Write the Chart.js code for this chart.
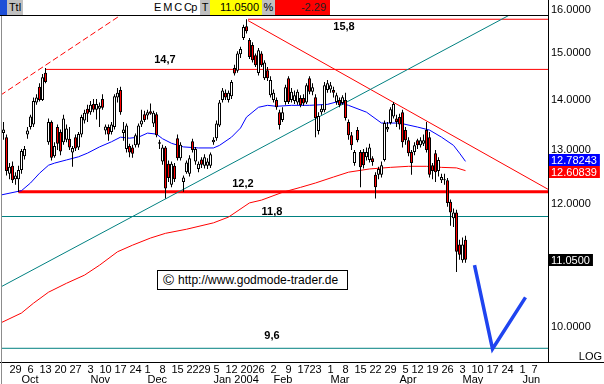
<!DOCTYPE html>
<html>
<head>
<meta charset="utf-8">
<title>Chart</title>
<script src="https://cdn.jsdelivr.net/npm/chart.js@4.4.1/dist/chart.umd.min.js"></script>
<style>
  html, body { margin: 0; padding: 0; background: #fff; }
  #wrap { position: relative; width: 604px; height: 384px; overflow: hidden; font-family: "Liberation Sans", Arial, sans-serif; }
  #chart { position: absolute; left: 0; top: 0; }
  #hdr { position: absolute; left: 0; top: 0; width: 548px; height: 15px; background: #fff; border-bottom: 1px solid #000; font-size: 11px; line-height: 15px; color: #000; }
  #hdr span { position: absolute; top: 0; height: 15px; box-sizing: border-box; white-space: nowrap; }
  .grey { background: #c0c0c0; text-align: center; }
  #copy { position: absolute; left: 157px; top: 270px; width: 191px; height: 20px; box-sizing: border-box; border: 1px solid #000; background: #fff; font-size: 12px; line-height: 18px; padding-left: 5px; white-space: nowrap; }
  #copy b { font-weight: normal; font-size: 15px; vertical-align: -1px; margin-right: 4px; }
</style>
</head>
<body>
<div id="wrap">
  <canvas id="chart" width="604" height="384"></canvas>
  <div id="hdr">
    <span style="left:0;width:7px;background:#1d4fd8"></span>
    <span class="grey" style="left:7px;width:16px">Ttl</span>
    <span style="left:154px;letter-spacing:-0.6px">E M C Cp</span>
    <span class="grey" style="left:200px;width:10px">T</span>
    <span id="hLast" style="left:210px;width:52px;background:#ffff00;text-align:right;padding-right:3px"></span>
    <span class="grey" style="left:262px;width:13px">%</span>
    <span id="hChg" style="left:275px;width:55px;background:#ff0000;text-align:right;padding-right:4px;color:#222"></span>
  </div>
  <div id="copy"><b>©</b>http://www.godmode-trader.de</div>
</div>
<script>
const FONT = '"Liberation Sans", Arial, sans-serif';

// trading calendar (US market)
const firstDay = '2003-09-23';
const lastDay = '2004-06-11';
const holidays = ['2003-11-27', '2003-12-25', '2004-01-01', '2004-01-19', '2004-02-16', '2004-04-09', '2004-05-31'];
const monthNames = ['Jan', 'Feb', 'Mar', 'Apr', 'May', 'Jun', 'Jul', 'Aug', 'Sep', 'Oct', 'Nov', 'Dec'];

// daily candles from 2003-09-23: [open, high, low, close]
const ohlc = [
  [13.33,13.55,13.20,13.40],[13.25,13.30,12.52,12.60],[12.55,12.75,12.45,12.68],[12.70,12.78,12.38,12.43],
  [12.45,12.58,12.35,12.52],[12.45,12.70,12.21,12.62],[12.62,13.02,12.55,12.98],[12.88,13.08,12.82,13.02],[13.30,13.45,13.22,13.38],
  [13.45,13.70,13.40,13.66],[13.50,14.05,13.45,13.98],[13.95,14.12,13.90,14.05],[14.28,14.35,13.97,14.00],[14.00,14.55,13.98,14.48],
  [14.58,14.68,14.35,14.38],[13.15,13.62,13.10,13.55],[13.55,13.58,12.80,12.85],[12.88,13.15,12.85,13.08],[13.45,13.50,13.00,13.12],
  [13.35,13.40,12.90,12.97],[13.15,13.70,13.10,13.62],[13.20,13.50,13.15,13.42],[13.22,13.45,13.00,13.05],[12.95,13.08,12.68,13.04],
  [13.25,13.30,12.98,13.03],[13.05,13.35,13.00,13.31],[13.30,13.70,13.25,13.65],[13.58,13.80,13.52,13.74],[13.82,13.90,13.55,13.72],
  [13.75,13.98,13.70,13.90],[13.92,14.02,13.75,13.80],[13.80,14.02,13.60,13.92],[13.82,13.95,13.45,13.88],[14.02,14.12,13.80,13.84],
  [13.38,13.50,13.30,13.46],[13.45,13.50,13.18,13.30],[13.35,13.55,13.30,13.50],[13.45,14.12,13.40,14.08],[14.05,14.25,13.95,14.15],
  [14.21,14.28,13.70,13.75],[13.33,13.55,13.18,13.40],[13.02,13.52,12.95,13.48],[13.08,13.12,12.86,12.95],[13.05,13.10,12.85,12.93],
  [13.09,13.32,13.05,13.29],[13.10,13.52,13.05,13.48],[13.50,13.80,13.45,13.58],[13.71,13.78,13.55,13.59],[13.68,13.80,13.60,13.75],
  [13.77,13.93,13.70,13.72],[13.52,13.78,13.45,13.74],[13.71,13.75,13.25,13.29],[13.12,13.20,13.02,13.15],[12.78,13.10,12.72,13.05],
  [13.05,13.08,12.10,12.28],[12.74,12.80,12.40,12.47],[12.35,12.78,12.30,12.74],[12.70,12.75,12.40,12.45],[13.23,13.30,12.80,12.84],
  [12.84,13.15,12.80,13.10],[12.40,12.52,12.22,12.48],[12.58,12.80,12.55,12.76],[12.55,12.90,12.50,12.84],[13.17,13.22,12.95,13.00],
  [12.78,13.06,12.72,13.02],[12.64,12.78,12.58,12.74],[12.82,12.86,12.66,12.72],[12.70,12.92,12.65,12.86],[12.70,12.84,12.64,12.78],
  [12.70,12.95,12.66,12.92],[13.15,13.25,13.10,13.20],[13.23,13.58,13.18,13.52],[13.48,14.00,13.45,13.95],[14.00,14.25,13.95,14.20],
  [14.15,14.22,14.00,14.05],[14.00,14.20,13.95,14.15],[14.08,14.42,14.02,14.38],[14.68,14.75,14.52,14.56],[14.62,15.05,14.58,15.00],
  [14.98,15.15,14.90,15.10],[15.35,15.65,15.30,15.60],[15.62,15.78,15.45,15.50],[15.30,15.35,14.88,14.92],[15.19,15.25,14.80,14.85],
  [14.96,15.00,14.70,14.74],[14.57,15.12,14.52,15.07],[15.00,15.05,14.70,14.74],[14.46,14.85,14.42,14.80],[14.63,14.70,14.40,14.46],
  [14.10,14.50,14.05,14.42],[14.00,14.22,13.95,14.15],[14.00,14.05,13.80,13.85],[13.75,13.80,13.40,13.49],[13.59,13.85,13.55,13.75],
  [13.96,14.32,13.90,14.27],[14.46,14.50,13.92,13.96],[14.00,14.25,13.95,14.17],[13.98,14.20,13.92,14.10],[13.95,14.22,13.90,14.17],
  [14.04,14.10,13.85,13.89],[14.04,14.12,13.88,13.93],[13.95,14.35,13.92,14.31],[14.46,14.50,14.12,14.17],[14.17,14.35,14.10,14.27],
  [14.06,14.12,13.25,13.63],[13.37,13.75,13.30,13.67],[13.75,13.90,13.70,13.82],[13.79,14.38,13.75,14.31],[14.21,14.42,14.15,14.35],
  [14.22,14.38,14.15,14.31],[14.21,14.28,14.05,14.15],[13.96,14.15,13.90,14.10],[14.00,14.05,13.85,13.89],[13.94,14.10,13.90,14.06],
  [14.00,14.15,13.58,13.63],[13.55,13.60,13.20,13.29],[13.29,13.35,13.00,13.09],[12.75,13.00,12.70,12.96],[13.39,13.45,13.15,13.19],
  [12.96,13.00,12.30,12.67],[12.96,13.02,12.65,12.71],[12.86,13.05,12.80,12.96],[12.81,13.12,12.76,13.05],[12.84,12.88,12.70,12.77],
  [12.53,12.58,12.10,12.30],[12.53,12.68,12.45,12.64],[12.53,12.78,12.48,12.71],[12.81,13.58,12.78,13.53],[13.40,13.55,13.35,13.45],
  [13.53,13.85,13.50,13.81],[13.66,13.96,13.62,13.92],[13.62,13.70,13.45,13.55],[13.65,13.72,13.40,13.50],[13.75,13.80,13.05,13.15],
  [13.39,13.45,13.10,13.19],[13.19,13.25,12.88,12.94],[12.96,13.00,12.53,12.75],[12.96,13.15,12.90,13.09],[13.19,13.22,13.02,13.09],
  [13.09,13.25,13.05,13.19],[13.12,13.30,13.08,13.19],[13.39,13.55,12.95,13.00],[13.25,13.35,12.48,12.53],[12.71,12.75,12.45,12.60],
  [12.94,13.00,12.40,12.58],[12.60,12.86,12.50,12.81],[12.43,12.55,12.38,12.49],[12.43,12.55,12.35,12.45],[12.43,12.47,11.95,12.02],
  [12.04,12.08,11.62,11.85],[11.75,11.92,11.60,11.85],[11.85,11.90,10.85,11.18],[11.30,11.38,11.05,11.13],[11.04,11.42,11.00,11.30],
  [11.38,11.45,11.00,11.05]
];
const changePct = -2.29;

// moving averages, read at day index
const blueDays = [-1, 6, 9, 12, 15, 17, 21, 25, 28, 32, 36, 39, 42, 45, 48, 51, 53, 56, 60, 65, 70, 72, 76, 79, 81, 85, 88, 91, 96, 102, 108, 111, 115, 121, 126, 132, 138, 142, 146, 150, 152, 154];
const blueMA = [12.16, 12.24, 12.38, 12.56, 12.71, 12.75, 12.81, 12.87, 12.94, 13.06, 13.16, 13.25, 13.23, 13.25, 13.33, 13.31, 13.22, 13.13, 13.06, 13.04, 13.04, 13.09, 13.25, 13.43, 13.65, 13.85, 13.89, 13.87, 13.89, 13.89, 13.91, 13.96, 13.89, 13.75, 13.53, 13.53, 13.45, 13.39, 13.25, 13.09, 12.94, 12.78243];
const redDays = [-1, 6, 10, 15, 21, 27, 32, 38, 43, 49, 54, 61, 70, 75, 82, 86, 93, 99, 104, 110, 115, 122, 129, 135, 141, 146, 151, 154];
const redMA = [10.06, 10.21, 10.36, 10.53, 10.67, 10.80, 10.96, 11.18, 11.29, 11.41, 11.49, 11.56, 11.67, 11.77, 12.02, 12.07, 12.21, 12.30, 12.38, 12.49, 12.58, 12.64, 12.67, 12.69, 12.69, 12.67, 12.66, 12.60839];

// horizontal levels
const levelValues = [15.78, 14.65, 12.22, 11.78, 9.69];
const levelTexts = ['15,8', '14,7', '12,2', '11,8', '9,6'];
const levelStart = [81.5, 14, 5, -1, -1];

// trend lines [day index, price]
const channelTop = [[-1, 14.10], [40, 15.92]];
const uptrend = [[-1, 10.61], [182, 16.39]];
const downtrend = [[81.5, 15.75], [182, 12.25]];
const forecast = [[157, 10.96], [163, 9.68], [174, 10.45]];

const yTicks = [10, 12, 13, 14, 15, 16];

// ---- calendar -> axis ticks
const days = [];
for (let d = new Date(firstDay + 'T00:00:00Z'); d <= new Date(lastDay + 'T00:00:00Z'); d.setUTCDate(d.getUTCDate() + 1)) {
  const dow = d.getUTCDay();
  if (dow === 0 || dow === 6 || holidays.includes(d.toISOString().slice(0, 10))) continue;
  days.push(new Date(d));
}
const weekTicks = [], weekText = {}, monthTicks = [], monthText = {};
days.forEach((d, k) => {
  if (k === 0) return;
  const p = days[k - 1];
  if (d.getUTCDay() < p.getUTCDay()) { weekTicks.push(k); weekText[k] = String(d.getUTCDate()); }
  if (d.getUTCMonth() !== p.getUTCMonth()) {
    monthTicks.push(k);
    monthText[k] = d.getUTCMonth() === 0 ? monthNames[0] + ' ' + d.getUTCFullYear() : monthNames[d.getUTCMonth()];
  }
});

const lastClose = ohlc[ohlc.length - 1][3];
document.getElementById('hLast').textContent = lastClose.toFixed(4);
document.getElementById('hChg').textContent = changePct.toFixed(2);

const xMin = -0.5, xMax = 181.5;
const yMin = 9.495, yMax = 16.237;

const pts = arr => arr.map(p => ({ x: p[0], y: p[1] }));
const line = (data, color, width, extra) => Object.assign({
  type: 'line', data, xAxisID: 'x', yAxisID: 'y', borderColor: color, borderWidth: width,
  pointRadius: 0, tension: 0, fill: false, order: 3
}, extra || {});

const levelColors = ['#ff0000', '#ff0000', '#ff0000', '#008080', '#008080'];
const levelWidths = [1, 1, 3, 1, 1];
const levelLabelAt = [[113.5, 8], [53.8, -9], [79.8, -8], [89.5, -5], [89.5, -12]];

const datasets = [
  {
    type: 'bar', xAxisID: 'x', yAxisID: 'y', order: 1,
    data: ohlc.map((r, k) => ({ x: k, y: [r[0], r[3]] })),
    barThickness: 3, grouped: false, borderWidth: 1, borderColor: '#000', borderSkipped: false,
    inflateAmount: 0, minBarLength: 1,
    backgroundColor: c => (ohlc[c.dataIndex] && ohlc[c.dataIndex][3] >= ohlc[c.dataIndex][0]) ? '#ffffff' : '#ff0000'
  },
  {
    type: 'bar', xAxisID: 'x', yAxisID: 'y', order: 2,
    data: ohlc.map((r, k) => ({ x: k, y: [r[2], r[1]] })),
    barThickness: 1, grouped: false, borderWidth: 0, inflateAmount: 0, backgroundColor: '#000'
  },
  line(blueDays.map((k, i) => ({ x: k, y: blueMA[i] })), '#0000ff', 1),
  line(redDays.map((k, i) => ({ x: k, y: redMA[i] })), '#ff0000', 1),
  line(pts(channelTop), '#ff0000', 1, { borderDash: [6, 3] }),
  line(pts(uptrend), '#008080', 1),
  line(pts(downtrend), '#ff0000', 1),
  line(pts(forecast), '#1f44f0', 3.5, { order: 0 })
];
levelValues.forEach((v, i) => {
  datasets.push(line([{ x: levelStart[i], y: v }, { x: 182, y: v }], levelColors[i], levelWidths[i]));
});

const overlay = {
  id: 'overlay',
  afterDatasetsDraw(chart) {
    const { ctx, scales: { x, y } } = chart;
    ctx.save();
    ctx.font = 'bold 11px ' + FONT;
    ctx.fillStyle = '#000';
    ctx.textAlign = 'center';
    ctx.textBaseline = 'middle';
    levelValues.forEach((v, i) => {
      const [k, dy] = levelLabelAt[i];
      ctx.fillText(levelTexts[i], x.getPixelForValue(k), y.getPixelForValue(v) + dy);
    });
    ctx.restore();
  },
  afterDraw(chart) {
    const { ctx, chartArea: a, scales: { y } } = chart;
    ctx.save();
    ctx.fillStyle = '#000';
    ctx.fillRect(0, Math.round(a.bottom), chart.width, 1);
    ctx.fillStyle = '#8c8c8c';
    ctx.fillRect(1, 0, 1, chart.height);
    const marks = [
      { v: blueMA[blueMA.length - 1], bg: '#0000ff', fg: '#fff', text: blueMA[blueMA.length - 1].toFixed(5) },
      { v: redMA[redMA.length - 1], bg: '#ff0000', fg: '#fff', text: redMA[redMA.length - 1].toFixed(5) },
      { v: lastClose, bg: '#000', fg: '#fff', text: lastClose.toFixed(4) }
    ];
    const ys = marks.map(m => y.getPixelForValue(m.v));
    if (Math.abs(ys[0] - ys[1]) < 12) {
      const mid = (ys[0] + ys[1]) / 2, s = ys[0] < ys[1] ? -1 : 1;
      ys[0] = mid + s * 6; ys[1] = mid - s * 6;
    }
    ctx.font = '11px ' + FONT;
    ctx.textAlign = 'left';
    ctx.textBaseline = 'middle';
    marks.forEach((m, i) => {
      const w = ctx.measureText(m.text).width + 5;
      const top = Math.round(ys[i] - 6);
      ctx.fillStyle = m.bg;
      ctx.fillRect(a.right + 1, top, w, 12);
      ctx.fillStyle = m.fg;
      ctx.fillText(m.text, a.right + 3, top + 6.5);
    });
    ctx.fillStyle = '#000';
    ctx.textAlign = 'right';
    ctx.textBaseline = 'bottom';
    ctx.fillText('LOG', chart.width - 2, a.bottom);
    ctx.restore();
  }
};

new Chart(document.getElementById('chart'), {
  type: 'bar',
  data: { datasets },
  options: {
    responsive: false,
    animation: false,
    devicePixelRatio: 1,
    layout: { padding: { left: 2, top: 0, right: 0, bottom: 0 } },
    plugins: { legend: { display: false }, tooltip: { enabled: false } },
    scales: {
      x: {
        type: 'linear', position: 'bottom', min: xMin, max: xMax, offset: false,
        grid: { display: false, drawTicks: false },
        border: { display: true, color: '#000' },
        ticks: { autoSkip: false, maxRotation: 0, padding: 1, color: '#000', font: { family: FONT, size: 11 },
          callback: v => weekText[v] ?? '' },
        afterBuildTicks: s => { s.ticks = weekTicks.map(v => ({ value: v })); },
        afterFit: s => { s.height = 11; s.paddingLeft = 0; s.paddingRight = 0; }
      },
      x2: {
        type: 'linear', position: 'bottom', min: xMin, max: xMax, offset: false,
        grid: { display: false, drawTicks: false },
        border: { display: false },
        ticks: { autoSkip: false, maxRotation: 0, padding: 0, align: 'start', color: '#000', font: { family: FONT, size: 11 },
          callback: v => monthText[v] ?? '' },
        afterBuildTicks: s => { s.ticks = monthTicks.map(v => ({ value: v })); },
        afterFit: s => { s.height = 11; s.paddingLeft = 0; s.paddingRight = 0; }
      },
      y: {
        type: 'logarithmic', position: 'right', min: yMin, max: yMax,
        grid: { display: false, drawTicks: false },
        border: { display: true, color: '#000' },
        ticks: { padding: 3, color: '#000', font: { family: FONT, size: 11 }, callback: v => Number(v).toFixed(4) },
        afterBuildTicks: s => { s.ticks = yTicks.map(v => ({ value: v })); },
        afterFit: s => { s.width = 56; s.paddingTop = 0; s.paddingBottom = 0; }
      }
    }
  },
  plugins: [overlay]
});
</script>
</body>
</html>
